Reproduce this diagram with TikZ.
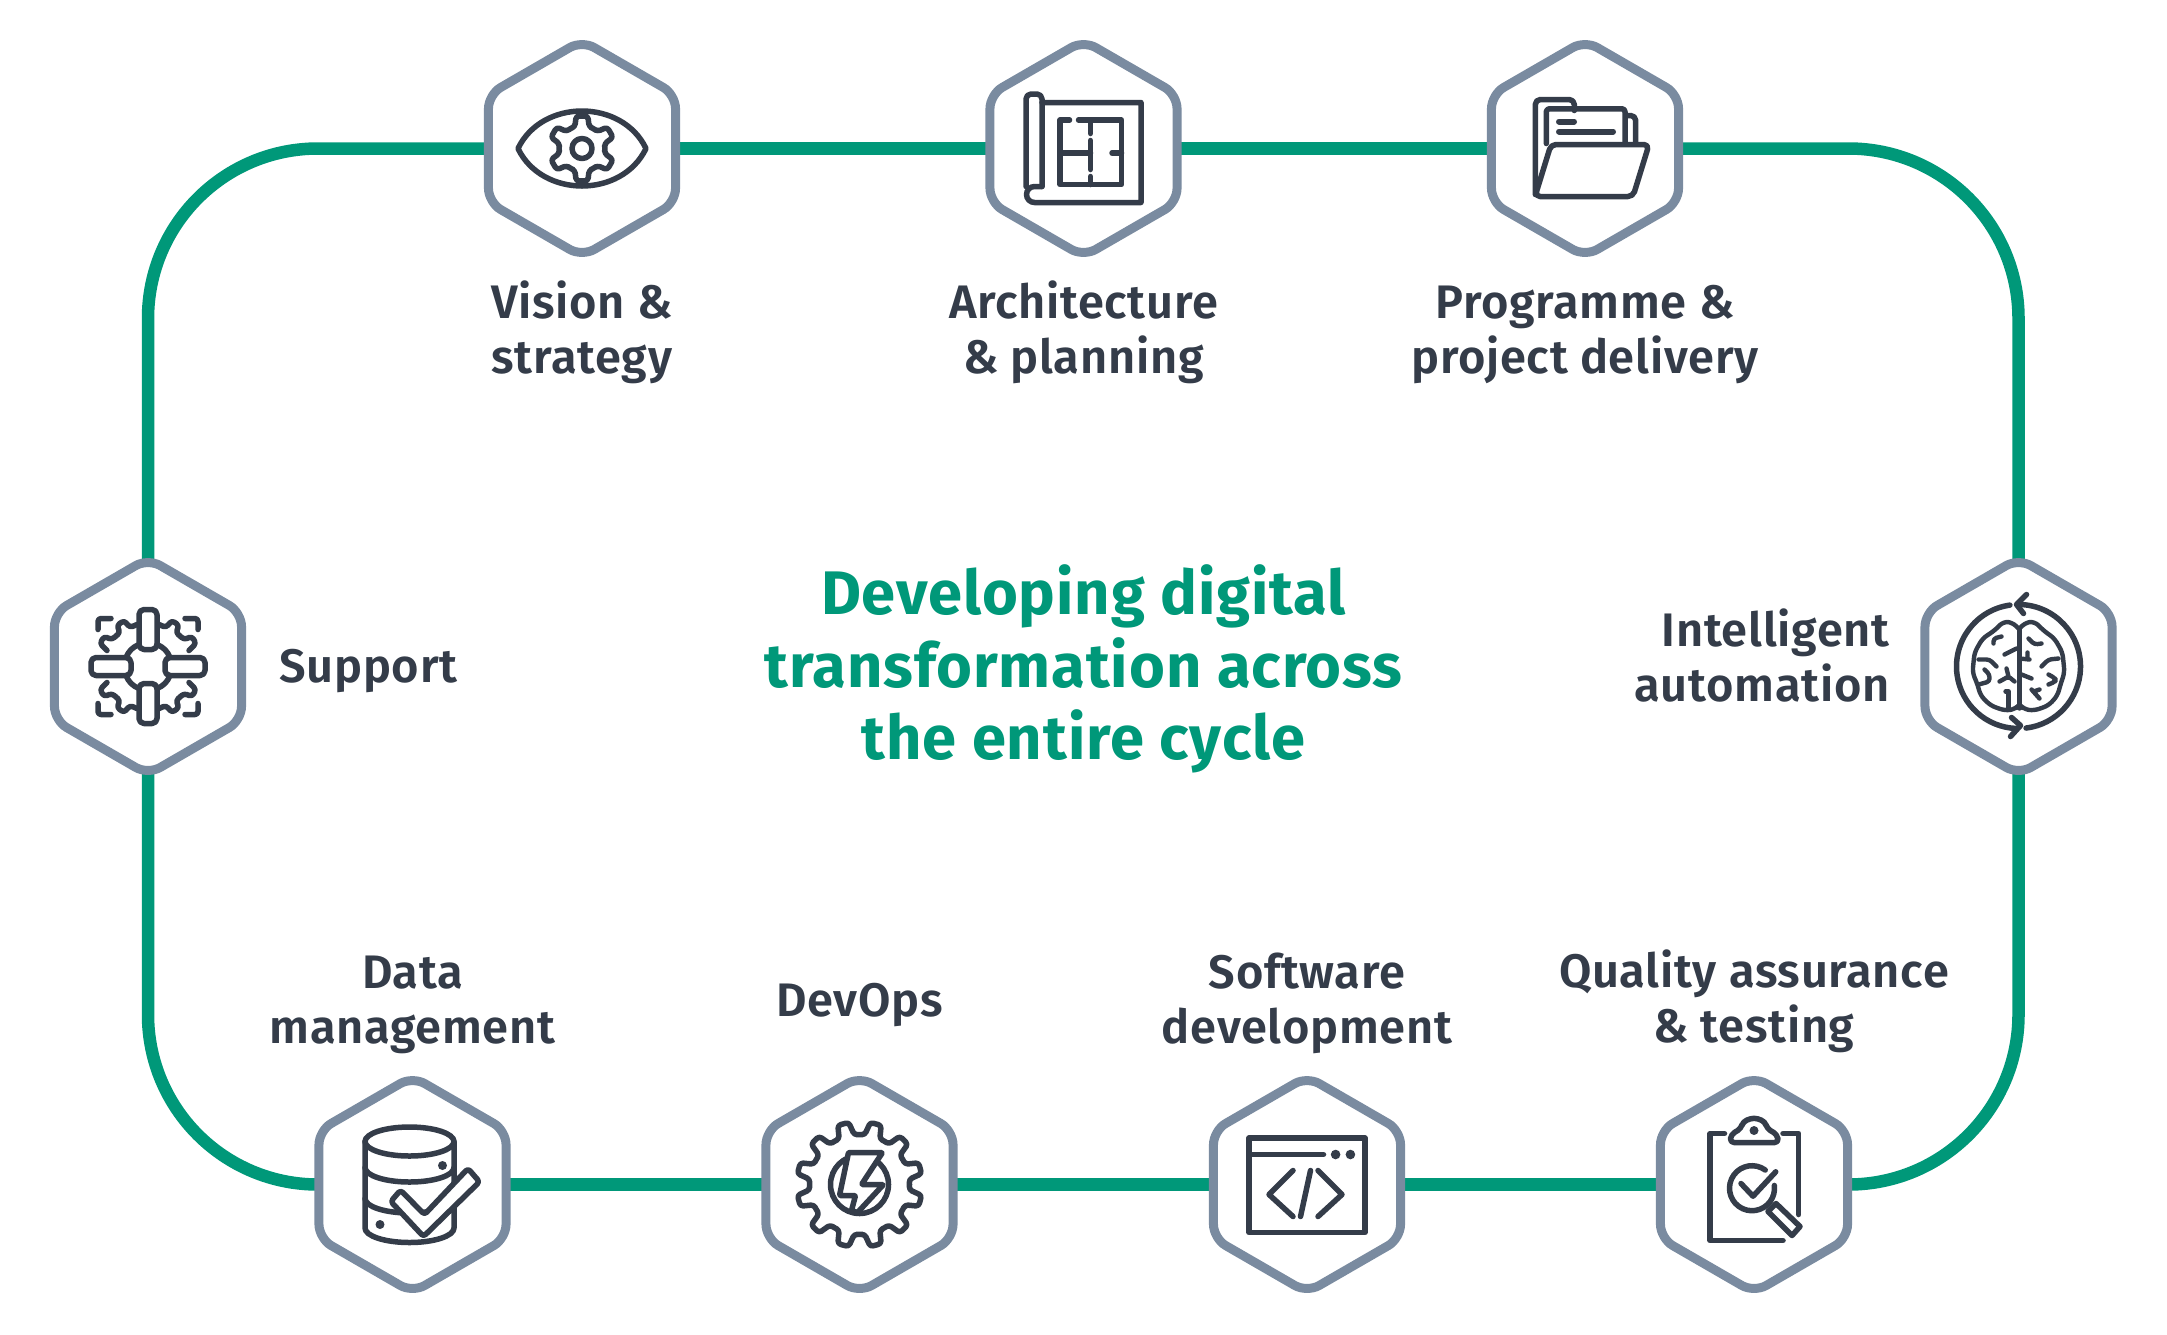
\documentclass[tikz,border=0pt]{standalone}
\usepackage{fontspec}
\setmainfont{Fira Sans}[UprightFont=*-SemiBold,BoldFont=*-Bold,LetterSpace=1.5]
\usetikzlibrary{shapes.geometric,backgrounds}
\definecolor{trackgreen}{HTML}{009879}
\definecolor{hexslate}{HTML}{7A8BA0}
\definecolor{icondark}{HTML}{343C49}
\tikzstyle{hexbox}=[draw=hexslate,fill=white,line width=9pt,regular polygon,regular polygon sides=6,
  shape border rotate=30,minimum size=216pt,inner sep=0pt,rounded corners=14pt]
\tikzstyle{track}=[draw=trackgreen,line width=12.5pt]
\tikzstyle{icon}=[draw=icondark,line width=5.5pt,line cap=round,line join=round]
\tikzstyle{caption}=[text=icondark,align=center,font=\fontsize{47}{55}\selectfont]
\tikzstyle{heading}=[text=trackgreen,align=center,font=\bfseries\fontsize{61.5}{72.6}\selectfont]
% teeth, inner radius, outer radius, angle of first tooth
\newcommand{\cogpath}[4]{%
  \pgfmathsetmacro{\cogstep}{360/#1}
  \draw[icon,rounded corners=3pt] ({#4-0.5*\cogstep}:#2)
    \foreach \i in {1,...,#1} {
      -- ({#4+(\i-1)*\cogstep-0.3*\cogstep}:#2)
      -- ({#4+(\i-1)*\cogstep-0.17*\cogstep}:#3)
      -- ({#4+(\i-1)*\cogstep+0.17*\cogstep}:#3)
      -- ({#4+(\i-1)*\cogstep+0.3*\cogstep}:#2)
      -- ({#4+(\i-1)*\cogstep+0.5*\cogstep}:#2)
    };
}
\begin{document}
\begin{tikzpicture}[x=1pt,y=-1pt]
  \useasboundingbox (0,0) rectangle (2167,1334);
  \node[hexbox] (vision) at (582,148.5) {};
  \node[hexbox] (arch) at (1083.5,148.5) {};
  \node[hexbox] (prog) at (1585,148.5) {};
  \node[hexbox] (intel) at (2018.5,666.5) {};
  \node[hexbox] (qa) at (1754,1184.5) {};
  \node[hexbox] (soft) at (1307,1184.5) {};
  \node[hexbox] (devops) at (859.5,1184.5) {};
  \node[hexbox] (data) at (412.5,1184.5) {};
  \node[hexbox] (support) at (148,666.5) {};

  \begin{scope}[on background layer]
    \draw[track] (vision.center) -- (arch.center);
    \draw[track] (arch.center) -- (prog.center);
    \draw[track,rounded corners=170pt] (prog.center) -| (intel.center);
    \draw[track,rounded corners=170pt] (intel.center) |- (qa.center);
    \draw[track] (qa.center) -- (soft.center);
    \draw[track] (soft.center) -- (devops.center);
    \draw[track] (devops.center) -- (data.center);
    \draw[track,rounded corners=170pt] (data.center) -| (support.center);
    \draw[track,rounded corners=170pt] (support.center) |- (vision.center);
  \end{scope}

  \node[caption] (visionlabel) at (582,332) {Vision \&\\strategy};
  \node[caption] (archlabel) at (1083.5,332) {Architecture\\\& planning};
  \node[caption] (proglabel) at (1585,335) {Programme \&\\project delivery};
  \node[caption,anchor=west] (supportlabel) at (276,671) {Support};
  \node[caption,anchor=east,align=right] (intellabel) at (1893,655) {Intelligent\\automation};
  \node[caption] (datalabel) at (412.5,1005) {Data\\management};
  \node[caption] (devopslabel) at (859.5,1005) {DevOps};
  \node[caption] (softlabel) at (1307,1003) {Software\\development};
  \node[caption] (qalabel) at (1754,1001) {Quality assurance\\\& testing};
  \node[heading] (title) at (1083.5,669) {Developing digital\\transformation across\\the entire cycle};

  % eye
  \begin{scope}[shift={(vision.center)}]
    \draw[icon] (-64,0) .. controls (-40,-50) and (40,-50) .. (64,0) .. controls (40,50) and (-40,50) .. (-64,0) -- cycle;
    \cogpath{6}{23}{33}{-90}
    \draw[icon] (0,0) circle (10);
  \end{scope}

  % blueprint
  \begin{scope}[shift={(arch.center)}]
    \draw[icon,rounded corners=5pt] (-41.5,38) -- (-41.5,-54.5) -- (-57.5,-54.5) -- (-57.5,38);
    \draw[icon] (-41.5,38) -- (-49,38) arc[start angle=-90,end angle=-270,radius=8] -- (57.5,54) -- (57.5,-46) -- (-41.5,-46);
    \draw[icon] (-14,-28.5) -- (-23.5,-28.5) -- (-23.5,36) -- (38,36) -- (38,-28.5) -- (-5,-28.5);
    \draw[icon] (7,-28) -- (7,-15) (7,-8) -- (7,21) (7,28) -- (7,36);
    \draw[icon] (-23.5,4.5) -- (7,4.5) (28.5,4.5) -- (38,4.5);
  \end{scope}

  % folder
  \begin{scope}[shift={(prog.center)}]
    \draw[icon,rounded corners=5pt] (-49.7,46) -- (-49.7,-49) -- (-10.7,-49) -- (-10.7,-38);
    \draw[icon,rounded corners=3pt] (-38.7,-5) -- (-38.7,-39.7) -- (40,-39.7) -- (40,-6);
    \draw[icon,rounded corners=5pt] (42,-33) -- (50.7,-33) -- (50.7,-6);
    \draw[icon,line width=6pt] (-26,-27) -- (-11,-27) (-26,-17) -- (28,-17);
    \draw[icon,rounded corners=5pt] (-34,-4) -- (64,-4) -- (48,48) -- (-50,48) -- cycle;
  \end{scope}

  % brain with two arrows
  \begin{scope}[shift={(intel.center)}]
    \draw[icon,line width=5.5pt] (-88:62) arc[start angle=-88,end angle=83,radius=62];
    \draw[icon,line width=5.5pt] (-98:62) arc[start angle=-98,end angle=-268,radius=62];
    \draw[icon,line width=5.5pt] (8,-72) -- (-2,-62) -- (5,-53);
    \draw[icon,line width=5.5pt] (-7,51) -- (2,59) -- (-8,70);
    \tikzstyle{fold}=[icon,line width=4.4pt]
    \draw[fold,rounded corners=5pt] (0,-38) -- (-6,-44) -- (-15,-45) -- (-24,-36) -- (-36,-28) -- (-44,-14) -- (-46,6) -- (-41,18) -- (-38,29) -- (-28,39) -- (-14,44) -- (-4,43) -- (1,38)
      -- (6,43) -- (16,44) -- (30,39) -- (39,29) -- (42,18) -- (46,6) -- (44,-14) -- (36,-28) -- (25,-36) -- (16,-45) -- (7,-44) -- (1,-38);
    \draw[fold] (1,-38) -- (1,42);
    \draw[fold,rounded corners=3pt] (-25,-23) -- (-25,-28) -- (-17,-30);
    \draw[fold] (-14,-12) -- (-2,-18);
    \draw[fold,rounded corners=3pt] (-40,-7) -- (-29,-7) -- (-22,0);
    \draw[fold,rounded corners=3pt] (-34,3) -- (-29,8) -- (-29,15) -- (-40,18);
    \draw[fold,rounded corners=2pt] (-19,15) -- (-10,10) -- (-4,15) (-10,10) -- (-12,2);
    \draw[fold] (-13,25) -- (-10,25) -- (-10,42);
    \draw[fold,rounded corners=3pt] (10,-28) -- (16,-22) -- (23,-23);
    \draw[fold] (1,-8) -- (11,-7) (9,-14) -- (9,-7);
    \draw[fold,rounded corners=3pt] (23,0) -- (30,-7) -- (40,-8);
    \draw[fold,rounded corners=3pt] (30,8) -- (37,12) -- (37,15) -- (30,18);
    \draw[fold] (3,8) -- (13,12);
    \draw[fold] (13,23) -- (21,32) (15,25) -- (21,23);
  \end{scope}

  % clipboard with magnifier
  \begin{scope}[shift={(qa.center)}]
    \draw[icon] (-29.5,-51) -- (-44,-51) -- (-44,56) -- (29,56);
    \draw[icon] (29,-51) -- (44.7,-51) -- (44.7,30);
    \draw[icon,rounded corners=4pt] (-24,-42) -- (-23,-50) -- (-13,-56) -- (-11,-63) -- (0,-67) -- (11,-63) -- (13,-56) -- (23,-50) -- (24.7,-42) -- cycle;
    \fill[icondark] (0,-54) circle (4.5);
    \draw[icon] (-2,3.7) ++(-54:22.5) arc[start angle=-54,end angle=-367,radius=22.5];
    \draw[icon] (-13,-1) -- (-1,11.7) -- (21.7,-12.7);
    \draw[icon] (22,19) -- (46,42) -- (38,51) -- (14,27) -- cycle;
  \end{scope}

  % code window
  \begin{scope}[shift={(soft.center)}]
    \draw[icon] (-58,-46.5) rectangle (58,48);
    \draw[icon] (-58,-30) -- (16.5,-30);
    \fill[icondark] (28.6,-30) circle (4.8) (43.4,-30) circle (4.8);
    \draw[icon] (-14,-14) -- (-38,10) -- (-14,32);
    \draw[icon] (11,-14) -- (35,10) -- (11,32);
    \draw[icon] (3.5,-14) -- (-6.5,32);
  \end{scope}

  % gear with bolt
  \begin{scope}[shift={(devops.center)}]
    \cogpath{12}{50}{63}{15}
    \draw[icon] (0,0) circle (29);
    \draw[icon,fill=white,rounded corners=1pt] (-11,-32) -- (23,-32) -- (2,0) -- (24,0) -- (-2,28) -- (-8,26) -- (-4,11) -- (-20,11) -- cycle;
  \end{scope}

  % database with tick
  \begin{scope}[shift={(data.center)}]
    \draw[icon] (-3,-43) ellipse [x radius=44.5,y radius=14.5];
    \draw[icon] (-47.5,-43) -- (-47.5,43.5) arc[start angle=180,end angle=0,x radius=44.5,y radius=14.5] -- (41.5,-43);
    \draw[icon] (-47.5,-17) arc[start angle=180,end angle=0,x radius=44.5,y radius=14.5];
    \draw[icon] (-47.5,14) arc[start angle=180,end angle=0,x radius=44.5,y radius=14.5];
    \fill[icondark] (30,-19) circle (4.5) (-32.5,40) circle (4.5);
    \draw[icon,fill=white,rounded corners=3pt] (-21.7,17) -- (-12,5.7) -- (12,30) -- (55.5,-16) -- (67,-2.7) -- (11,52) -- cycle;
  \end{scope}

  % cross of bars in a cog
  \begin{scope}[shift={(support.center)}]
    \foreach \a in {0,90,180,270} {
      \draw[icon,rotate=\a,rounded corners=5pt] (-9,-17) rectangle (9,-57);
    }
    \foreach \sx/\sy in {1/1,-1/1,1/-1,-1/-1} {
      \begin{scope}[xscale=\sx,yscale=\sy]
        \draw[icon] (9,-22) to[bend left=22] (22,-9);
        \draw[icon,rounded corners=3pt] (37,-48) -- (50,-48) -- (50,-37);
        \draw[icon,rounded corners=3pt] (11,-42) -- (18,-39) -- (24,-46) -- (31,-41) -- (28,-34) -- (36,-27) -- (44,-30) -- (48,-23) -- (41,-16);
      \end{scope}
    }
  \end{scope}
\end{tikzpicture}
\end{document}
